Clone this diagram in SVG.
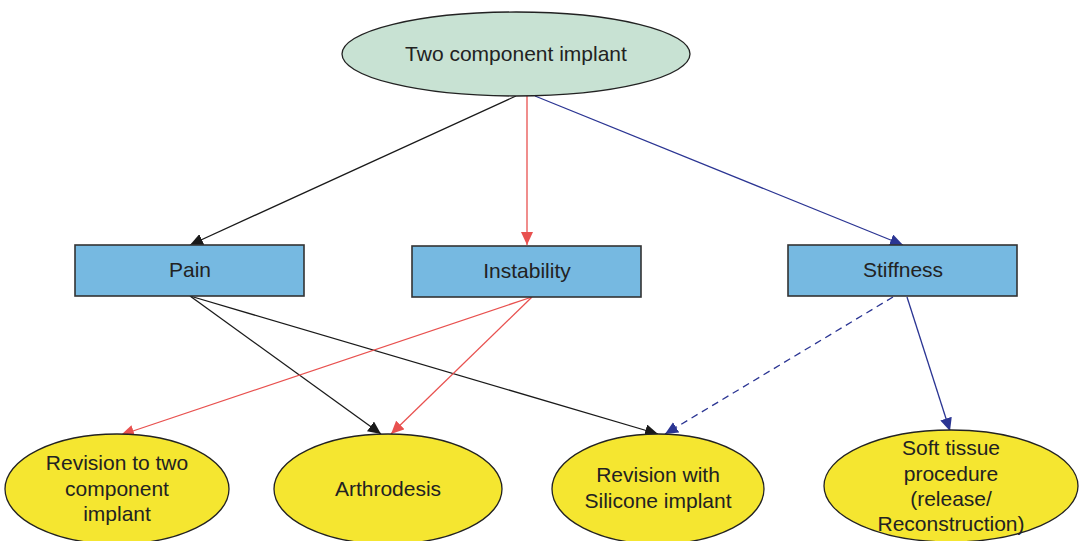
<svg xmlns="http://www.w3.org/2000/svg" width="1080" height="541" viewBox="0 0 1080 541">
  <style>
    text { font-family: "Liberation Sans", Arial, sans-serif; font-size: 21px; fill: #222; text-anchor: middle; }
    .root { fill: #c8e2d3; stroke: #222; stroke-width: 1.3; }
    .box { fill: #76b9e1; stroke: #333; stroke-width: 1.6; }
    .out { fill: #f5e630; stroke: #222; stroke-width: 1.3; }
    .k { stroke: #1a1a1a; stroke-width: 1.3; fill: none; }
    .r { stroke: #e8514f; stroke-width: 1.3; fill: none; }
    .b { stroke: #2b3593; stroke-width: 1.3; fill: none; }
    .dash { stroke-dasharray: 7 5; }
  </style>
  <defs>
    <marker id="ak" markerUnits="userSpaceOnUse" markerWidth="14" markerHeight="12" refX="13" refY="6" orient="auto">
      <path d="M0,0 L13,6 L0,12 Z" fill="#1a1a1a"/>
    </marker>
    <marker id="ar" markerUnits="userSpaceOnUse" markerWidth="14" markerHeight="12" refX="13" refY="6" orient="auto">
      <path d="M0,0 L13,6 L0,12 Z" fill="#e8514f"/>
    </marker>
    <marker id="ab" markerUnits="userSpaceOnUse" markerWidth="14" markerHeight="12" refX="13" refY="6" orient="auto">
      <path d="M0,0 L13,6 L0,12 Z" fill="#2b3593"/>
    </marker>
  </defs>

  <g id="connectors">
    <line class="k" x1="516" y1="96" x2="190" y2="245" marker-end="url(#ak)"/>
    <line class="r" x1="527" y1="96" x2="527" y2="245" marker-end="url(#ar)"/>
    <line class="b" x1="535" y1="96" x2="903" y2="245" marker-end="url(#ab)"/>
    <line class="k" x1="190" y1="296" x2="381" y2="434" marker-end="url(#ak)"/>
    <line class="k" x1="190" y1="296" x2="658" y2="434" marker-end="url(#ak)"/>
    <line class="r" x1="532" y1="297" x2="121" y2="435" marker-end="url(#ar)"/>
    <line class="r" x1="532" y1="297" x2="391" y2="434" marker-end="url(#ar)"/>
    <line class="b dash" x1="893" y1="297" x2="665" y2="434" marker-end="url(#ab)"/>
    <line class="b" x1="907" y1="297" x2="950" y2="431" marker-end="url(#ab)"/>
  </g>

  <g id="two-component-implant">
    <ellipse class="root" cx="516" cy="54" rx="174" ry="42"/>
    <text x="516" y="61">Two component implant</text>
  </g>

  <g id="pain">
    <rect class="box" x="75" y="245" width="229" height="51"/>
    <text x="190" y="277">Pain</text>
  </g>
  <g id="instability">
    <rect class="box" x="412" y="246" width="229" height="51"/>
    <text x="527" y="278">Instability</text>
  </g>
  <g id="stiffness">
    <rect class="box" x="788" y="245" width="229" height="51"/>
    <text x="903" y="277">Stiffness</text>
  </g>

  <g id="revision-two-component">
    <ellipse class="out" cx="117" cy="489" rx="112" ry="55"/>
    <text x="117" y="470">Revision to two</text>
    <text x="117" y="496">component</text>
    <text x="117" y="521">implant</text>
  </g>
  <g id="arthrodesis">
    <ellipse class="out" cx="388" cy="489" rx="114" ry="55"/>
    <text x="388" y="496">Arthrodesis</text>
  </g>
  <g id="revision-silicone">
    <ellipse class="out" cx="658" cy="489" rx="106" ry="55"/>
    <text x="658" y="482">Revision with</text>
    <text x="658" y="508">Silicone implant</text>
  </g>
  <g id="soft-tissue">
    <ellipse class="out" cx="951" cy="486" rx="127" ry="56"/>
    <text x="951" y="455">Soft tissue</text>
    <text x="951" y="481">procedure</text>
    <text x="951" y="506">(release/</text>
    <text x="951" y="531">Reconstruction)</text>
  </g>
</svg>
